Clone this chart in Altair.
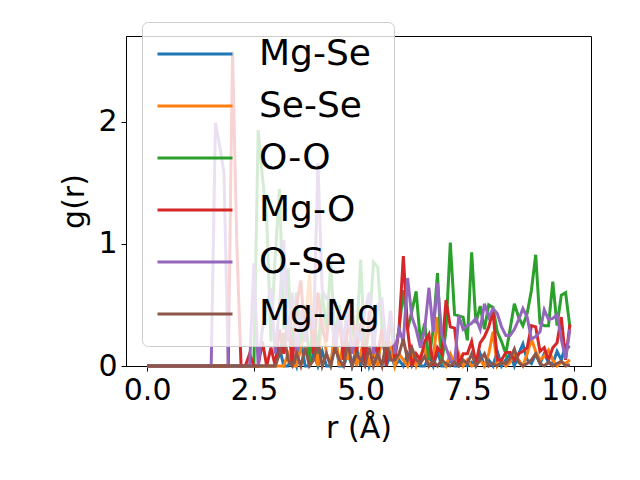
import altair as alt
import pandas as pd

r = [0.0, 0.1, 0.2, 0.3, 0.4, 0.5, 0.6, 0.7, 0.8, 0.9,
     1.0, 1.1, 1.2, 1.3, 1.4, 1.5, 1.6, 1.7, 1.8, 1.9,
     2.0, 2.1, 2.2, 2.3, 2.4, 2.5, 2.6, 2.7, 2.8, 2.9,
     3.0, 3.1, 3.2, 3.3, 3.4, 3.5, 3.6, 3.7, 3.8, 3.9,
     4.0, 4.1, 4.2, 4.3, 4.4, 4.5, 4.6, 4.7, 4.8, 4.9,
     5.0, 5.1, 5.2, 5.3, 5.4, 5.5, 5.6, 5.7, 5.8, 5.9,
     6.0, 6.1, 6.2, 6.3, 6.4, 6.5, 6.6, 6.7, 6.8, 6.9,
     7.0, 7.1, 7.2, 7.3, 7.4, 7.5, 7.6, 7.7, 7.8, 7.9,
     8.0, 8.1, 8.2, 8.3, 8.4, 8.5, 8.6, 8.7, 8.8, 8.9,
     9.0, 9.1, 9.2, 9.3, 9.4, 9.5, 9.6, 9.7, 9.8, 9.9]

mg_se = [0, 0, 0, 0, 0, 0, 0, 0, 0, 0,
         0, 0, 0, 0, 0, 0, 0, 0, 0, 0,
         0, 0, 0, 0, 0, 0, 0, 0, 0, 0,
         0, 0.15, 0, 0, 0.1, 0, 0.2, 0, 0, 0.1,
         0, 0.12, 0, 0, 0.25, 0, 0, 0.1, 0, 0.15,
         0, 0.2, 0, 0.1, 0, 0.3, 0, 0.1, 0, 0.05,
         0, 0.1, 0, 0.05, 0, 0, 0.08, 0, 0.12, 0,
         0, 0.05, 0, 0, 0.02, 0, 0.03, 0, 0.1, 0,
         0.05, 0, 0.12, 0, 0.05, 0.1, 0, 0.1, 0.18, 0.05,
         0.02, 0.1, 0.02, 0.1, 0.03, 0.02, 0.12, 0.05, 0.17, 0.15]

se_se = [0, 0, 0, 0, 0, 0, 0, 0, 0, 0,
         0, 0, 0, 0, 0, 0, 0, 0, 0, 0,
         0, 0, 0, 0, 0, 0, 0, 0, 0, 0,
         0, 0, 0, 0.1, 0, 0, 0.15, 0.3, 0.75, 0.2,
         0, 0.4, 0.1, 0, 0.3, 0, 0.2, 0.05, 0.35, 0,
         0.1, 0.25, 0, 0.15, 0, 0.3, 0.05, 0.2, 0, 0.1,
         0.05, 0, 0.12, 0, 0.08, 0.15, 0, 0.05, 0.40, 0.05,
         0, 0.1, 0.03, 0.1, 0, 0.05, 0, 0.02, 0.05, 0,
         0.1, 0.28, 0, 0.05, 0, 0.03, 0.1, 0.05, 0, 0.1,
         0.22, 0.12, 0.05, 0.08, 0.13, 0.05, 0, 0.03, 0.02, 0.05]

o_o = [0, 0, 0, 0, 0, 0, 0, 0, 0, 0,
       0, 0, 0, 0, 0, 0, 0, 0, 0, 0,
       0, 0, 0, 0, 0, 0, 1.93, 1.55, 1.22, 0.2,
       0.9, 1.45, 0.3, 0.8, 0.1, 0.6, 0.2, 0.5, 0, 0.45,
       0.1, 0.6, 0.3, 0.84, 0.2, 0.5, 0.1, 0.55, 0.3, 0.2,
       0.87, 0.1, 0.3, 0.85, 0.81, 0.3, 0.05, 0.4, 0.1, 0.3,
       0.62, 0.3, 0.45, 0.61, 0.2, 0.35, 0.05, 0.3, 0.76, 0.02,
       0.3, 1.01, 0.42, 0.41, 0.40, 0.21, 0.93, 0.35, 0.49, 0.3,
       0.5, 0.48, 0.28, 0.2, 0.1, 0.3, 0.51, 0.4, 0.33, 0.43,
       0.62, 0.91, 0.35, 0.33, 0.33, 0.69, 0.33, 0.58, 0.6, 0.32]

mg_o = [0, 0, 0, 0, 0, 0, 0, 0, 0, 0,
        0, 0, 0, 0, 0, 0, 0, 0, 0, 0,
        2.57, 1.0, 0, 0, 0.1, 0, 0, 0.2, 0, 0.15,
        0, 0.3, 0.1, 0.4, 0, 0.5, 0.7, 0.2, 0.45, 0.1,
        0.6, 0.3, 0.2, 0.55, 0.1, 0.4, 0.05, 0.3, 0.5, 0.1,
        0.35, 0, 0.45, 0.2, 0.1, 0.3, 0, 0.45, 0.05, 0.31,
        0.9, 0.3, 0, 0.1, 0.05, 0.2, 0.26, 0, 0.15, 0.1,
        0.54, 0.32, 0.31, 0, 0.1, 0.1, 0.2, 0.02, 0.19, 0.24,
        0.32, 0.45, 0.05, 0.05, 0.11, 0.11, 0.05, 0.1, 0.12, 0.15,
        0.33, 0.32, 0.12, 0.15, 0.05, 0.15, 0.19, 0.40, 0.05, 0.34]

o_se = [0, 0, 0, 0, 0, 0, 0, 0, 0, 0,
        0, 0, 0, 0, 0, 0, 1.99, 1.8, 1.58, 0,
        0, 0, 0, 0, 0, 0.84, 0, 0.3, 0.5, 0.64,
        0.1, 0.5, 1.03, 0.2, 0.6, 0.1, 0.45, 0.2, 0.5, 0.3,
        1.66, 0.62, 0.55, 0.54, 0.1, 0.45, 0.2, 0.5, 0.1, 0.3,
        0.2, 0.45, 0.6, 0.1, 0.5, 0.54, 0.15, 0.45, 0.1, 0.3,
        0.2, 0.72, 0.4, 0.3, 0.15, 0.3, 0.64, 0.28, 0.68, 0.25,
        0.15, 0.05, 0.02, 0.41, 0.3, 0.33, 0.35, 0.39, 0.3, 0.51,
        0.4, 0.47, 0.43, 0.32, 0.25, 0.25, 0.3, 0.38, 0.47, 0.4,
        0.22, 0.24, 0.28, 0.46, 0.38, 0.39, 0.42, 0.22, 0.06, 0.30]

mg_mg = [0, 0, 0, 0, 0, 0, 0, 0, 0, 0,
         0, 0, 0, 0, 0, 0, 0, 0, 0, 0,
         0, 0, 0, 0, 0, 0, 0, 0, 0, 0,
         0, 0.1, 0.27, 0.05, 0, 0.1, 0, 0.15, 0, 0.05,
         0.2, 0, 0.1, 0, 0.15, 0.05, 0, 0.2, 0, 0.1,
         0.05, 0, 0.15, 0, 0.1, 0, 0.2, 0.05, 0.05, 0.1,
         0.22, 0.05, 0.15, 0.05, 0.02, 0.08, 0, 0.04, 0, 0.05,
         0.02, 0, 0.03, 0, 0.05, 0.02, 0.1, 0, 0.05, 0.1,
         0, 0.02, 0, 0.03, 0.02, 0.06, 0.14, 0.03, 0, 0.02,
         0.05, 0.1, 0.02, 0, 0.03, 0, 0.02, 0.04, 0, 0.01]

pairs = ["Mg-Se", "Se-Se", "O-O", "Mg-O", "O-Se", "Mg-Mg"]
colors = ["#1f77b4", "#ff7f0e", "#2ca02c", "#d62728", "#9467bd", "#8c564b"]
series = [mg_se, se_se, o_o, mg_o, o_se, mg_mg]

rows = []
for k, (name, vals) in enumerate(zip(pairs, series)):
    for ri, v in zip(r, vals):
        rows.append({"r": ri, "g": v, "pair": name, "order": k})
df = pd.DataFrame(rows)

FONT = "DejaVu Sans"

chart = alt.Chart(df).mark_line(strokeWidth=3, clip=False).encode(
    x=alt.X("r:Q", scale=alt.Scale(domain=[-0.495, 10.395], nice=False, zero=False),
            axis=alt.Axis(values=[0, 2.5, 5, 7.5, 10], format=".1f", title="r (Å)")),
    y=alt.Y("g:Q", scale=alt.Scale(domain=[0, 2.70], nice=False),
            axis=alt.Axis(values=[0, 1, 2], format="d", title="g(r)")),
    color=alt.Color("pair:N", sort=pairs,
                    scale=alt.Scale(domain=pairs, range=colors),
                    legend=alt.Legend(title=None, orient="none", legendX=16, legendY=-14,
                                      symbolType="stroke", symbolSize=5625, symbolStrokeWidth=3,
                                      labelFontSize=36, labelFont=FONT, labelColor="black",
                                      labelOffset=25, clipHeight=36, rowPadding=16,
                                      padding=14, fillColor="rgba(255,255,255,0.8)",
                                      strokeColor="#cccccc", cornerRadius=6)),
    detail="order:O",
).properties(
    width=465, height=330,
    autosize=alt.AutoSizeParams(type="none"),
    padding={"left": 118, "top": 28, "right": 41, "bottom": 106},
).configure_view(
    stroke="black", strokeWidth=1
).configure_axis(
    grid=False, domainColor="black", tickColor="black", tickSize=5,
    labelFont=FONT, labelFontSize=30, labelColor="black",
    titleFont=FONT, titleFontSize=30, titleFontWeight="normal", titleColor="black",
    labelPadding=4, titlePadding=8
)

chart.save("out.html", embed_options={"renderer": "svg", "actions": False})
